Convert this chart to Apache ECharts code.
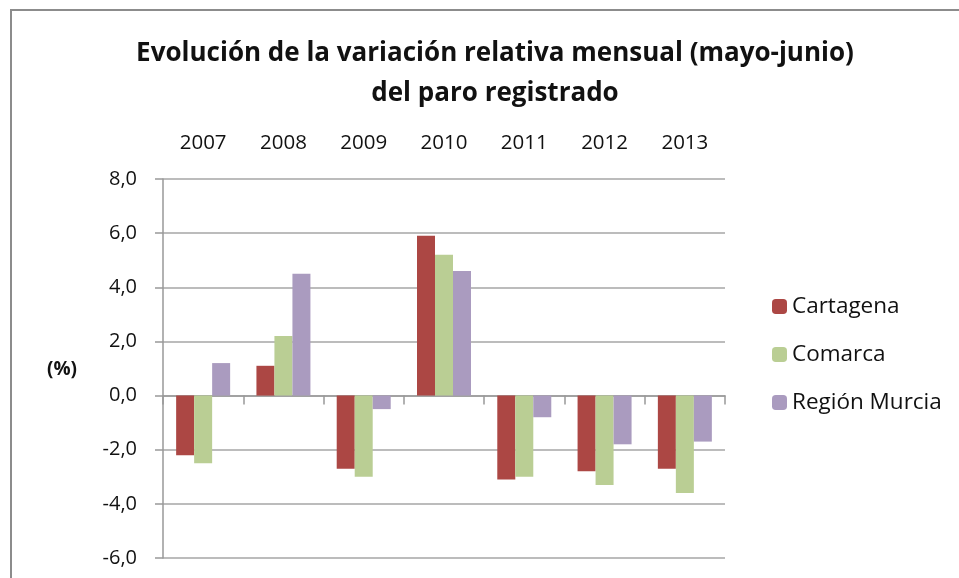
<!DOCTYPE html>
<html>
<head>
<meta charset="utf-8">
<script src="https://cdn.jsdelivr.net/npm/echarts@6/dist/echarts.min.js"></script>
<style>
    html, body { margin: 0; padding: 0; background: #fff; }
    #chart { width: 959px; height: 578px; }
</style>
</head>
<body>
<div id="chart"></div>
<script>
var years = ['2007', '2008', '2009', '2010', '2011', '2012', '2013'];
var cartagena = [-2.2, 1.1, -2.7, 5.9, -3.1, -2.8, -2.7];
var comarca = [-2.5, 2.2, -3.0, 5.2, -3.0, -3.3, -3.6];
var regionMurcia = [1.2, 4.5, -0.5, 4.6, -0.8, -1.8, -1.7];

var font = '"Open Sans", sans-serif';

var myChart = echarts.init(document.getElementById('chart'));

var option = {
    animation: false,
    backgroundColor: '#fff',
    title: {
        text: 'Evolución de la variación relativa mensual (mayo-junio)\ndel paro registrado',
        left: 490,
        top: 29,
        textAlign: 'center',
        textStyle: {
            fontFamily: font,
            fontWeight: 'bold',
            fontSize: 26,
            lineHeight: 40,
            color: '#111'
        }
    },
    legend: {
        orient: 'vertical',
        left: 767,
        top: 290,
        itemWidth: 15,
        itemHeight: 15,
        itemGap: 25,
        textStyle: {
            fontFamily: font,
            fontSize: 22.5,
            lineHeight: 23,
            color: '#111'
        },
        data: ['Cartagena', 'Comarca', 'Región Murcia']
    },
    grid: {
        left: 163,
        right: 234,
        top: 179,
        bottom: 20
    },
    graphic: [{
        type: 'rect',
        shape: { x: 11, y: 10, width: 1000, height: 1000 },
        style: { fill: 'none', stroke: '#8c8c8c', lineWidth: 2 }
    }, {
        type: 'text',
        left: 47,
        top: 360,
        style: {
            text: '(%)',
            fontFamily: font,
            fontWeight: 'bold',
            fontSize: 19,
            fill: '#111'
        }
    }],
    xAxis: [{
        type: 'category',
        data: years,
        position: 'top',
        axisLine: { show: false, onZero: false },
        axisTick: { show: false },
        axisLabel: {
            margin: 25,
            fontFamily: font,
            fontSize: 20.5,
            color: '#111'
        }
    }, {
        type: 'category',
        data: years,
        position: 'bottom',
        axisLine: { show: true, onZero: true, lineStyle: { color: '#999', width: 1.5 } },
        axisTick: { show: true, length: 9, lineStyle: { color: '#999', width: 1.5 } },
        axisLabel: { show: false }
    }],
    yAxis: {
        type: 'value',
        min: -6,
        max: 8,
        interval: 2,
        axisLine: { show: true, lineStyle: { color: '#999', width: 1.5 } },
        axisTick: { show: true, length: 8, lineStyle: { color: '#999', width: 1.5 } },
        splitLine: { lineStyle: { color: '#a6a6a6', width: 1.5 } },
        axisLabel: {
            margin: 26,
            fontFamily: font,
            fontSize: 20,
            color: '#111',
            formatter: function (val) {
                return val.toFixed(1).replace('.', ',');
            }
        }
    },
    series: [{
        name: 'Cartagena',
        type: 'bar',
        xAxisIndex: 0,
        barWidth: 18,
        barGap: '0%',
        itemStyle: { color: '#ac4744' },
        data: cartagena
    }, {
        name: 'Comarca',
        type: 'bar',
        xAxisIndex: 0,
        barWidth: 18,
        barGap: '0%',
        itemStyle: { color: '#bace94' },
        data: comarca
    }, {
        name: 'Región Murcia',
        type: 'bar',
        xAxisIndex: 0,
        barWidth: 18,
        barGap: '0%',
        itemStyle: { color: '#aa9bbf' },
        data: regionMurcia
    }]
};
myChart.setOption(option);
</script>
</body>
</html>
